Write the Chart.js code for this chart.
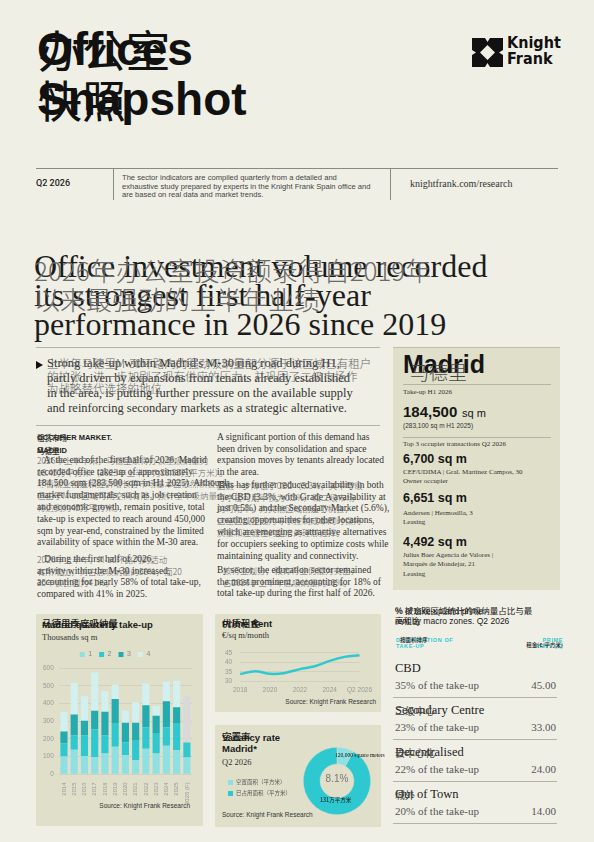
<!DOCTYPE html>
<html><head><meta charset="utf-8">
<script src="https://cdn.jsdelivr.net/npm/chart.js@4.4.1/dist/chart.umd.min.js"></script>
<style>
html,body{margin:0;padding:0;}
body{width:594px;height:842px;background:#f0efe6;position:relative;overflow:hidden;}
.t{position:absolute;white-space:pre;}
.panel{position:absolute;background:#e0dfca;}
.rule{position:absolute;height:1px;background:#b4b3a6;}
.vr{position:absolute;width:1px;background:#8a8a7e;}
.cw{position:absolute;}
</style></head><body>
<script>
// ---------------- DATA ----------------
const takeupYears = ['2014','2015','2016','2017','2018','2019','2020','2021','2022','2023','2024','2025','2026 (F)'];
const takeupQ1 = [101,138,103, 97,118,155,109, 80,144,118,161,136, 95];
const takeupQ2 = [ 74, 83,118,157,103,134, 72,110,122,115,105,149, 84];
const takeupQ3 = [ 66,117, 82,105,132,136,110,101,124, 97,146, 94,null];
const takeupQ4 = [110,179,138,216,117, 80, 68,115,123, 56,110,149,null];
const takeupForecastRest = [null,null,null,null,null,null,null,null,null,null,null,null,262];
const quarterLabels = ['1','2','3','4'];
const takeupTicks = [0,100,200,300,400,500,600];

const rentPeriods = ['2018','2019','2020','2021','2022','2023','2024','2025','Q2 2026'];
const rentValues = [33.8,35.3,33.9,34.4,36.4,37.9,40.8,42.9,43.8];
const rentTicks = [30,35,40,45];

const vacancyLabels = ['空置面积（平方米）','已占用面积（平方米）'];
const vacancyValues = [8.1,91.9];
const vacancyRate = '8.1%';

const zones = ['CBD','Secondary Centre','Decentralised','Out of Town'];
const zonesCN = ['','二级中心','去中心化','城外'];
const zoneShares = [35,23,22,20];
const zoneRents = [45.00,33.00,24.00,14.00];
</script>
<script>
const SANS = '"Liberation Sans", Arial, sans-serif';
const SERIF = '"Liberation Serif", "Times New Roman", serif';
const CJK = '"Noto Sans CJK SC", sans-serif';
function T(x, base, txt, o){
  o = o || {};
  const f = o.f || 'serif';
  const s = o.s || 10;
  const lh = o.lh || s;
  const k = f==='sans' ? 0.3465 : (f==='cjk' ? 0.38 : 0.3375);
  const d = document.createElement('div');
  d.className = 't';
  d.textContent = txt;
  d.style.fontFamily = f==='sans' ? (o.ff||SANS) : (f==='cjk' ? CJK : SERIF);
  d.style.fontSize = s+'px';
  d.style.lineHeight = lh+'px';
  d.style.fontWeight = o.w || 400;
  d.style.color = o.c || '#2a2a2a';
  if (o.ls) d.style.letterSpacing = o.ls+'px';
  d.style.top = (base - lh/2 - k*s) + 'px';
  if (o.a === 'right') { d.style.right = (594 - x) + 'px'; d.style.textAlign='right'; }
  else if (o.a === 'center') { d.style.left = (x-150)+'px'; d.style.width='300px'; d.style.textAlign='center'; }
  else d.style.left = x + 'px';
  document.body.appendChild(d);
  return d;
}
function box(cls, x, y, w, h, bg){
  const d = document.createElement('div');
  d.className = cls;
  d.style.left = x+'px'; d.style.top = y+'px';
  if (w!=null) d.style.width = w+'px';
  if (h!=null) d.style.height = h+'px';
  if (bg) d.style.background = bg;
  document.body.appendChild(d);
  return d;
}
</script>

<!-- Logo -->
<svg style="position:absolute;left:472px;top:38px" width="31" height="29" viewBox="0 0 31 29">
  <path fill="#111" fill-rule="evenodd" d="M0 0 H13 L15.5 4 L18 0 H31 V12 L27 14.5 L31 17 V29 H18 L15.5 25 L13 29 H0 V17 L4 14.5 L0 12 Z M15.5 7 L23 14.5 L15.5 22 L8 14.5 Z"/>
</svg>

<script>
// Background panels
box('panel', 393, 347, 167, 243);
box('rule', 393, 347, 167, 1, '#bdbcae');
box('panel', 36, 614, 167, 212);
box('panel', 215, 614, 166, 98);
box('panel', 215, 725, 166, 102);

// Title
T(37, 65, 'Offices', {f:'sans', s:46, w:700, c:'#111'});
T(37, 115, 'Snapshot', {f:'sans', s:46, w:700, c:'#111'});
T(38, 66, '办公室', {f:'cjk', s:44, w:400, c:'#111'});
T(38, 116, '快照', {f:'cjk', s:44, w:400, c:'#111'});
T(507, 49, 'Knight', {f:'sans', ff:'"DejaVu Sans Condensed", "DejaVu Sans", sans-serif', s:16, w:700, c:'#111'});
T(507, 65, 'Frank', {f:'sans', ff:'"DejaVu Sans Condensed", "DejaVu Sans", sans-serif', s:16, w:700, c:'#111'});

// Header row
box('rule', 36, 168, 522, 1, '#8a8a7e');
box('vr', 113, 168, null, 32);
box('vr', 390, 168, null, 32);
T(36, 187, 'Q2 2026', {f:'sans', ff:'Roboto, sans-serif', s:9, w:500, c:'#222'});
T(122, 181, 'The sector indicators are compiled quarterly from a detailed and\nexhaustive study prepared by experts in the Knight Frank Spain office and\nare based on real data and market trends.', {f:'sans', s:7.6, lh:8.4, c:'#444'});
T(410, 187, 'knightfrank.com/research', {f:'serif', s:10, c:'#333'});

// Headline
T(34, 277, 'Office investment volume recorded\nits strongest first half-year\nperformance in 2026 since 2019', {f:'serif', s:32, lh:29, c:'#1c1c1c'});
T(34, 279, '2026年办公室投资额录得自2019年\n以来最强劲的上半年业绩', {f:'cjk', s:26, lh:29, w:300, c:'#6a6a6a'});

box('rule', 36, 347, 344, 1, '#b4b3a6');
// bullet
const bl = document.createElement('div');
bl.style.cssText='position:absolute;left:36px;top:361px;width:0;height:0;border-top:4px solid transparent;border-bottom:4px solid transparent;border-left:7px solid #111;';
document.body.appendChild(bl);
T(47, 368, "Strong take-up within Madrid's M-30 ring road during H1,\npartly driven by expansions from tenants already established\nin the area, is putting further pressure on the available supply\nand reinforcing secondary markets as a strategic alternative.", {f:'serif', s:12.5, lh:15, c:'#333'});
T(47, 368, '上半年马德里M-30环路内的强劲吸纳量部分源于该区域已有租户\n的扩张，进一步加剧了现有供应的压力，并巩固了二级市场作\n为战略替代选择的地位', {f:'cjk', s:11.5, lh:12.5, w:300, c:'#666'});
box('rule', 36, 425, 344, 1, '#b4b3a6');

// Occupier market columns
T(37, 440, 'OCCUPIER MARKET.\nMADRID', {f:'sans', s:7.5, lh:13, w:700, c:'#222'});
T(37, 440, '租赁市场\n马德里', {f:'cjk', s:7.5, lh:13, w:500, c:'#333'});
T(37, 464, '   At the end of the first half of 2026, Madrid\nrecorded office take-up of approximately\n184,500 sqm (283,500 sqm in H1 2025). Although\nmarket fundamentals, such as job creation\nand economic growth, remain positive, total\ntake-up is expected to reach around 450,000\nsqm by year-end, constrained by the limited\navailability of space within the M-30 area.', {f:'serif', s:9.5, lh:11.8, c:'#333'});
T(37, 464, '2026年上半年末，马德里录得办公室吸纳量约\n18.45万平方米（2025年上半年为28.35万平方米）。\n尽管就业创造和经济增长等市场基本面依然积极，\n但由于M-30区域可用空间有限，预计全年吸纳量\n将达到约45万平方米。', {f:'cjk', s:8.5, lh:11.8, w:300, c:'#666'});
T(37, 563, '   During the first half of 2026,\nactivity within the M-30 increased,\naccounting for nearly 58% of total take-up,\ncompared with 41% in 2025.', {f:'serif', s:9.5, lh:11.8, c:'#333'});
T(37, 563, '2026年上半年，M-30环路内的活动\n有所增加，约占总吸纳量的58%，而20\n25年该比例为41%。', {f:'cjk', s:8.5, lh:11.8, w:300, c:'#666'});

T(217, 441, 'A significant portion of this demand has\nbeen driven by consolidation and space\nexpansion moves by tenants already located\nin the area.', {f:'serif', s:9.5, lh:11.8, c:'#333'});
T(217, 489, 'This has further reduced availability in both\nthe CBD (3.3%, with Grade A availability at\njust 0.5%) and the Secondary Market (5.6%),\ncreating opportunities for other locations,\nwhich are emerging as attractive alternatives\nfor occupiers seeking to optimize costs while\nmaintaining quality and connectivity.', {f:'serif', s:9.5, lh:11.8, c:'#333'});
T(217, 489, '这进一步降低了CBD（3.3%，其中甲级\n写字楼可用率仅为0.5%）和二级市场\n的可用率，为其他区域创造了机会，\n这些区域正成为寻求控制成本同时保持\n质量和连通性的租户的理想选择。', {f:'cjk', s:8.5, lh:11.8, w:300, c:'#666'});
T(217, 574, 'By sector, the education sector remained\nthe most prominent, accounting for 18% of\ntotal take-up during the first half of 2026.', {f:'serif', s:9.5, lh:11.8, c:'#333'});
T(223, 574, '按行业划分，教育行业仍最为突出，\n占2026年上半年总吸纳量的18%。', {f:'cjk', s:8.5, lh:11.8, w:300, c:'#666'});

// Madrid panel
T(403, 373, 'Madrid', {f:'sans', s:25, w:700, c:'#151515'});
T(410, 379, '马德里', {f:'cjk', s:19, w:300, c:'#444'});
box('rule', 403, 384, 148, 1, '#b4b3a6');
T(403, 395, 'Take-up H1 2026', {f:'serif', s:7, c:'#333'});
T(403, 417, '184,500', {f:'sans', s:15, w:700, c:'#151515'});
T(462, 417, 'sq m', {f:'sans', s:11, c:'#151515'});
T(403, 429, '(283,100 sq m H1 2025)', {f:'sans', s:6.5, c:'#333'});
box('rule', 403, 437, 148, 1, '#b4b3a6');
T(403, 447, 'Top 3 occupier transactions Q2 2026', {f:'serif', s:7, c:'#333'});
T(403, 464, '6,700 sq m', {f:'sans', s:12.5, w:700, c:'#151515'});
T(403, 475, 'CEF/UDIMA | Gral. Martínez Campos, 30\nOwner occupier', {f:'serif', s:7, lh:9.5, c:'#333'});
T(403, 503, '6,651 sq m', {f:'sans', s:12.5, w:700, c:'#151515'});
T(403, 516, 'Andersen | Hermosilla, 3\nLeasing', {f:'serif', s:7, lh:9.5, c:'#333'});
T(403, 547, '4,492 sq m', {f:'sans', s:12.5, w:700, c:'#151515'});
T(403, 558, 'Julius Baer Agencia de Valores |\nMarqués de Mondejar, 21\nLeasing', {f:'serif', s:7, lh:9.5, c:'#333'});

// Chart titles
T(42, 628, 'Madrid quarterly take-up', {f:'sans', s:9.5, w:700, c:'#1a1a1a'});
T(42, 627, '马德里季度吸纳量', {f:'cjk', s:9.5, w:500, c:'#1a1a1a'});
T(42, 640, 'Thousands sq m', {f:'serif', s:8.5, c:'#333'});
T(190, 809, 'Source: Knight Frank Research', {f:'sans', s:6.5, a:'right', c:'#333'});

T(222, 627, 'Prime Rent', {f:'sans', s:9.5, w:700, c:'#1a1a1a'});
T(222, 627, '优质租金', {f:'cjk', s:9.5, w:500, c:'#1a1a1a'});
T(222, 638, '€/sq m/month', {f:'serif', s:8.5, c:'#333'});
T(376, 705, 'Source: Knight Frank Research', {f:'sans', s:6.5, a:'right', c:'#333'});

T(222, 741, 'Vacancy rate\nMadrid*', {f:'sans', s:9.5, lh:11, w:700, c:'#1a1a1a'});
T(222, 740, '空置率', {f:'cjk', s:9.5, w:500, c:'#1a1a1a'});
T(222, 765, 'Q2 2026', {f:'serif', s:8.5, c:'#333'});
T(222, 818, 'Source: Knight Frank Research', {f:'sans', s:6.5, c:'#333'});

// Table
T(395, 614, '% of take-up and prime\nrent by macro zones. Q2 2026', {f:'sans', s:8.5, lh:10, c:'#1a1a1a'});
T(395, 613, '% 按宏观区域统计的吸纳量占比与最\n高租金', {f:'cjk', s:8.5, lh:10, w:400, c:'#1a1a1a'});
T(396, 642, 'DISTRIBUTION OF\nTAKE-UP', {f:'sans', s:5.5, lh:6.5, w:700, ls:0.6, c:'#2ec9d0'});
T(563, 642, 'PRIME\nRENT (€)', {f:'sans', s:5.5, lh:6.5, w:700, ls:0.6, a:'right', c:'#2ec9d0'});
T(400, 643, '按面积排序', {f:'cjk', s:5.5, w:500, c:'#222'});
T(563, 648, '租金(€/平方米)', {f:'cjk', s:5.5, w:500, a:'right', c:'#222'});
</script>

<div class="cw" style="left:38px;top:644px;width:158px;height:161px"><canvas id="bar"></canvas></div>
<div class="cw" style="left:217px;top:641px;width:160px;height:58px"><canvas id="rent"></canvas></div>
<div class="cw" style="left:303px;top:747px;width:68px;height:68px"><canvas id="donut"></canvas></div>

<script>
// Table rows built from arrays
zones.forEach((z,i)=>{
  const b = 672 + i*42;
  T(395, b, z, {f:'serif', s:12.5, c:'#222'});
  if (zonesCN[i]) T(395, b+1, zonesCN[i], {f:'cjk', s:10, w:400, c:'#444'});
  T(395, b+17, zoneShares[i] + '% of the take-up', {f:'serif', s:11, c:'#555'});
  T(556, b+17, zoneRents[i].toFixed(2), {f:'serif', s:11, a:'right', c:'#555'});
  box('rule', 393, b+25, 164, 1, '#b4b3a6');
});

// Donut labels
T(337, 782, vacancyRate, {f:'sans', s:10, a:'center', c:'#777'});
T(335, 758, '120,000 square meters', {f:'serif', s:5.5, c:'#111'});
T(320, 803, '131万平方米', {f:'cjk', s:5.5, c:'#111'});
// Vacancy legend
vacancyLabels.forEach((l,i)=>{
  const y = 784 + i*11;
  box('panel', 228, y-4, 5, 5, i===0 ? '#8fe0e3' : '#2ec9d0');
  T(236, y+1, l, {f:'cjk', s:5.5, c:'#555'});
});

Chart.defaults.animation = false;
Chart.defaults.font.family = SANS;

const cQ = ['#8fe0e3','#2ec9d0','#24abb0','#d3f0f0','#d9d9d9'];
new Chart(document.getElementById('bar'), {
  type:'bar',
  data:{
    labels: takeupYears,
    datasets:[
      {label:quarterLabels[0], data:takeupQ1, backgroundColor:cQ[0]},
      {label:quarterLabels[1], data:takeupQ2, backgroundColor:cQ[1]},
      {label:quarterLabels[2], data:takeupQ3, backgroundColor:cQ[2]},
      {label:quarterLabels[3], data:takeupQ4, backgroundColor:cQ[3]},
      {label:'F', data:takeupForecastRest, backgroundColor:cQ[4]}
    ].map(d=>Object.assign(d,{barPercentage:0.7, categoryPercentage:1, borderWidth:0}))
  },
  options:{
    responsive:true, maintainAspectRatio:false,
    layout:{padding:{left:0,right:4,top:0,bottom:0}},
    plugins:{
      legend:{position:'top', labels:{filter:(it)=>it.datasetIndex<4, boxWidth:5, boxHeight:5, padding:7, font:{size:7}, color:'#888'}},
      tooltip:{enabled:false}
    },
    scales:{
      x:{stacked:true, grid:{display:false}, border:{display:false},
         ticks:{minRotation:90, maxRotation:90, autoSkip:false, font:{size:6}, color:'#999', padding:0}},
      y:{stacked:true, min:0, max:600, afterBuildTicks:(ax)=>{ax.ticks = takeupTicks.map(v=>({value:v}));},
         grid:{color:'#d2d1c0', drawTicks:false}, border:{display:false},
         ticks:{autoSkip:false, font:{size:6.5}, color:'#999', padding:5}}
    }
  }
});

new Chart(document.getElementById('rent'), {
  type:'line',
  data:{labels:rentPeriods, datasets:[{data:rentValues, borderColor:'#2ec9d0', borderWidth:2.5, pointRadius:0, tension:0.35, fill:false}]},
  options:{
    responsive:true, maintainAspectRatio:false,
    layout:{padding:{left:0,right:10,top:4,bottom:0}},
    plugins:{legend:{display:false}, tooltip:{enabled:false}},
    scales:{
      x:{grid:{display:false, drawTicks:false, tickLength:0}, border:{display:false},
         ticks:{autoSkip:false, maxRotation:0, minRotation:0, font:{size:6.5}, color:'#999', padding:5,
                callback:(v,i)=> i%2===0 ? rentPeriods[i] : ''}},
      y:{min:30, max:45, afterBuildTicks:(ax)=>{ax.ticks = rentTicks.map(v=>({value:v}));},
         grid:{color:'#d2d1c0', drawTicks:false}, border:{display:false},
         ticks:{autoSkip:false, font:{size:6.5}, color:'#999', padding:8}}
    }
  }
});

new Chart(document.getElementById('donut'), {
  type:'doughnut',
  data:{labels:vacancyLabels, datasets:[{data:vacancyValues, backgroundColor:['#8fe0e3','#2ec9d0'], borderColor:'#e0dfca', borderWidth:0.5}]},
  options:{responsive:true, maintainAspectRatio:false, cutout:'50%',
    plugins:{legend:{display:false}, tooltip:{enabled:false}}}
});
</script>
</body></html>
